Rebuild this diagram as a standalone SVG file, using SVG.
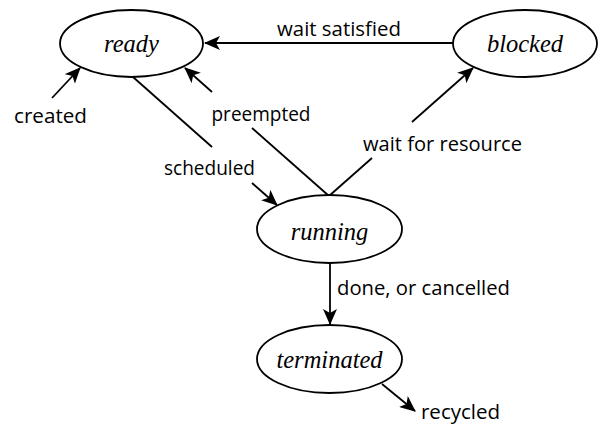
<svg xmlns="http://www.w3.org/2000/svg" width="600" height="425" viewBox="0 0 600 425">
<style>
.node{fill:#fff;stroke:#000;stroke-width:1.8}
.nt{font-family:"Liberation Serif",serif;font-style:italic;font-size:24.5px;text-anchor:middle;fill:#000}
.lb{font-family:"Open Sans",sans-serif;font-size:20.5px;fill:#000}
.e{stroke:#000;stroke-width:1.8;fill:none}
</style>
<defs>
<marker id="ah" markerUnits="userSpaceOnUse" markerWidth="16" markerHeight="14" viewBox="0 0 16 14" refX="15" refY="7" orient="auto">
<path d="M0,0 L16,7 L0,14 L4,7 z" fill="#000"/>
</marker>
</defs>
<rect width="600" height="425" fill="#fff"/>
<g id="connectors">
<line class="e" x1="453" y1="43" x2="205" y2="43" marker-end="url(#ah)"/>
<line class="e" x1="52" y1="98" x2="80" y2="68" marker-end="url(#ah)"/>
<line class="e" x1="329" y1="196" x2="252" y2="128"/>
<line class="e" x1="212" y1="92" x2="185" y2="68" marker-end="url(#ah)"/>
<line class="e" x1="133" y1="77" x2="212" y2="147"/>
<line class="e" x1="252" y1="183" x2="277" y2="205" marker-end="url(#ah)"/>
<line class="e" x1="329" y1="196" x2="372" y2="158"/>
<line class="e" x1="412" y1="122" x2="473" y2="68" marker-end="url(#ah)"/>
<line class="e" x1="330" y1="263" x2="330" y2="324" marker-end="url(#ah)"/>
<line class="e" x1="382" y1="384" x2="415" y2="411" marker-end="url(#ah)"/>
</g>
<g id="labels">
<text class="lb" x="277" y="36" textLength="124" lengthAdjust="spacingAndGlyphs">wait satisfied</text>
<text class="lb" x="14" y="123" textLength="73" lengthAdjust="spacingAndGlyphs">created</text>
<text class="lb" x="211.5" y="121" textLength="99" lengthAdjust="spacingAndGlyphs">preempted</text>
<text class="lb" x="164" y="175" textLength="91" lengthAdjust="spacingAndGlyphs">scheduled</text>
<text class="lb" x="363" y="151" textLength="159" lengthAdjust="spacingAndGlyphs">wait for resource</text>
<text class="lb" x="337" y="295" textLength="173" lengthAdjust="spacingAndGlyphs">done, or cancelled</text>
<text class="lb" x="421" y="419" textLength="79" lengthAdjust="spacingAndGlyphs">recycled</text>
</g>
<g id="ready">
<ellipse class="node" cx="131.5" cy="43.5" rx="71.5" ry="33.5"/>
<text class="nt" x="131.5" y="52">ready</text>
</g>
<g id="blocked">
<ellipse class="node" cx="525" cy="43.5" rx="72" ry="33.5"/>
<text class="nt" x="525" y="52">blocked</text>
</g>
<g id="running">
<ellipse class="node" cx="329.5" cy="229" rx="72.5" ry="34"/>
<text class="nt" x="329.5" y="240">running</text>
</g>
<g id="terminated">
<ellipse class="node" cx="329.5" cy="359" rx="72.5" ry="34"/>
<text class="nt" x="329.5" y="368">terminated</text>
</g>
</svg>
